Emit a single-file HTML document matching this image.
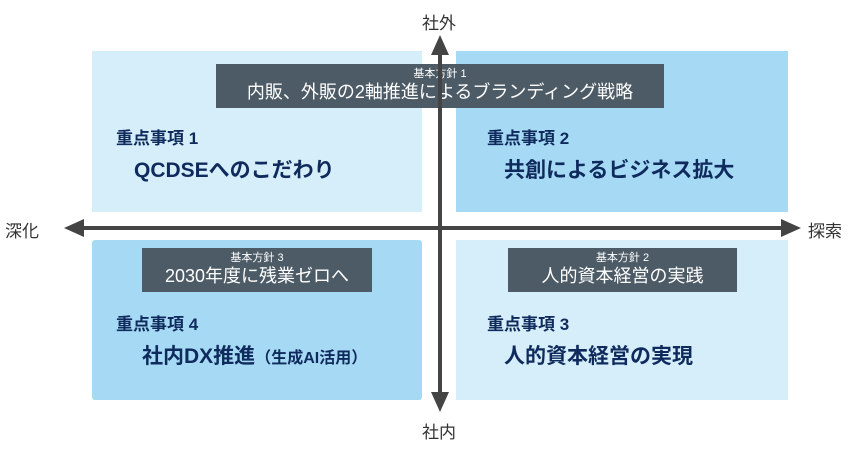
<!DOCTYPE html>
<html><head><meta charset="utf-8"><style>
body{margin:0;width:867px;height:454px;background:#fff;position:relative;overflow:hidden;font-family:"Liberation Sans","Noto Sans CJK JP",sans-serif;}
.q{position:absolute;}
.l{background:#d5eefa}.d{background:#a6daf4}
.b{position:absolute;background:#4c5b66;color:#fff;text-align:center;}
.b .s{font-size:11px;line-height:13px;margin-top:4px}
.b .m{font-size:18px;line-height:22px}
.t{position:absolute;color:#0f2a5c;white-space:nowrap;font-weight:bold}
.h{font-size:17px}.x{font-size:21px}
.ax{position:absolute;color:#333;font-size:17px}
</style></head><body>
<div class="q l" style="left:92px;top:51px;width:330px;height:161px"></div>
<div class="q d" style="left:456px;top:51px;width:332px;height:161px"></div>
<div class="q d" style="left:92px;top:240px;width:330px;height:160px;border-radius:3px"></div>
<div class="q l" style="left:456px;top:240px;width:332px;height:160px"></div>

<div class="b" style="left:216px;top:64px;width:448px;height:44px"><div class="s">基本方針 1</div><div class="m">内販、外販の2軸推進によるブランディング戦略</div></div>
<div class="b" style="left:142px;top:248px;width:230px;height:44px"><div class="s">基本方針 3</div><div class="m">2030年度に残業ゼロへ</div></div>
<div class="b" style="left:508px;top:248px;width:229px;height:44px"><div class="s">基本方針 2</div><div class="m">人的資本経営の実践</div></div>

<div class="t h" style="left:116px;top:124px">重点事項 1</div>
<div class="t x" style="left:134px;top:154px">QCDSEへのこだわり</div>
<div class="t h" style="left:487px;top:124px">重点事項 2</div>
<div class="t x" style="left:504px;top:154px">共創によるビジネス拡大</div>
<div class="t h" style="left:116px;top:310px">重点事項 4</div>
<div class="t x" style="left:142px;top:340px">社内DX推進<span style="font-size:16px">（生成AI活用）</span></div>
<div class="t h" style="left:487px;top:310px">重点事項 3</div>
<div class="t x" style="left:504px;top:340px">人的資本経営の実現</div>

<svg width="867" height="454" style="position:absolute;left:0;top:0">
<g fill="#444" stroke="#444">
<line x1="440" y1="50" x2="440" y2="394" stroke-width="4"/>
<line x1="80" y1="228" x2="786" y2="228" stroke-width="4"/>
<polygon points="440,35 431,55 449,55" stroke="none"/>
<polygon points="440,412 431,392 449,392" stroke="none"/>
<polygon points="64,228 84,219 84,237" stroke="none"/>
<polygon points="801,228 781,219 781,237" stroke="none"/>
</g></svg>
<div class="ax" style="left:422px;top:9px">社外</div>
<div class="ax" style="left:422px;top:418px">社内</div>
<div class="ax" style="left:5px;top:217px">深化</div>
<div class="ax" style="left:808px;top:217px">探索</div>
</body></html>
